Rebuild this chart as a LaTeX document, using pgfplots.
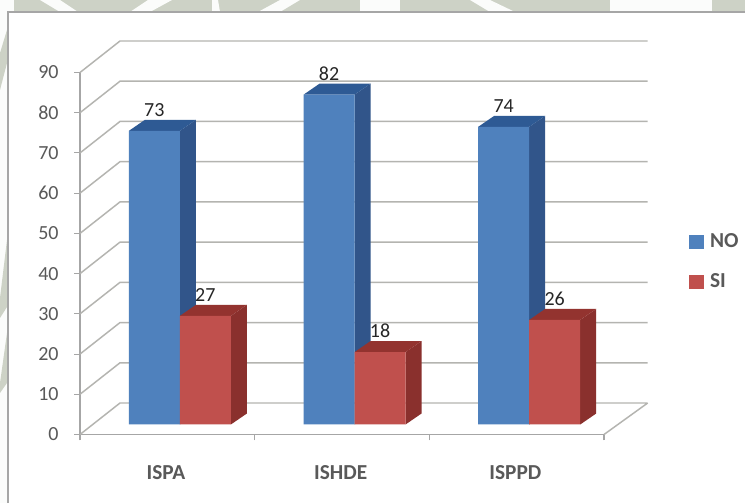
\documentclass[border=0pt]{standalone}
\usepackage{fontspec}
\setmainfont{Carlito}
\usepackage{pgfplots}
\pgfplotsset{compat=1.18}
\definecolor{bluefront}{HTML}{4F81BD}
\definecolor{blueside}{HTML}{31558A}
\definecolor{bluetop}{HTML}{2E5A94}
\definecolor{redfront}{HTML}{C0504D}
\definecolor{redside}{HTML}{8A302D}
\definecolor{redtop}{HTML}{93332F}
\definecolor{gridgray}{HTML}{B4B4B0}
\definecolor{axisgray}{HTML}{A6A6A6}
\definecolor{ticktext}{HTML}{595959}
\definecolor{wmark}{HTML}{CDD2C6}
\begin{document}
\begin{tikzpicture}[x=0.75pt,y=0.75pt]
\useasboundingbox (0,0) rectangle (745,503);
% backdrop and chart frame
\fill[wmark] (0,491) rectangle (745,503);
\fill[white] (8,0) rectangle (745,491);
\fill[white!93!wmark] (0,0) rectangle (8,491);
% pale watermark pieces round the frame
\fill[white!93!wmark] (0,491) rectangle (14,503);
\fill[white!93!wmark] (60,491) -- (78,491) -- (60,503) -- (40,503) -- cycle;
\fill[white!93!wmark] (130,491) -- (150,491) -- (172,503) -- (148,503) -- cycle;
\fill[white!93!wmark] (212,491) -- (220,491) -- (218,503) -- (212,503) -- cycle;
\fill[white!93!wmark] (258,491) -- (280,491) -- (300,503) -- (280,503) -- cycle;
\fill[white!93!wmark] (360,491) rectangle (400,503);
\fill[white!93!wmark] (490,491) -- (515,491) -- (490,503) -- (470,503) -- cycle;
\fill[white!93!wmark] (610,491) rectangle (712,503);
\fill[wmark] (0,413) -- (7,440) -- (7,473) -- (0,450) -- cycle;
\fill[wmark] (0,205) -- (7,263) -- (7,196) -- (0,185) -- cycle;
\fill[wmark] (0,120) -- (7,170) -- (7,120) -- (0,110) -- cycle;
\draw[axisgray,line width=1.5pt] (8,0) -- (8,491) -- (745,491);
\begin{axis}[
    at={(60pt,51.375pt)}, anchor=south west,
    scale only axis, width=393pt, height=271.5pt,
    xmin=0, xmax=3, ymin=0, ymax=90,
    clip=false,
    axis x line=bottom, axis y line=left,
    axis line style={-,draw=axisgray,line width=1pt},
    ytick={0,10,...,90},
    xtick={0.5,1.5,2.5},
    xticklabels={ISPA,ISHDE,ISPPD},
    minor xtick={0,1,2,3},
    tick align=outside,
    major x tick style={draw=none},
    minor tick length=4.5pt,
    major tick length=4.5pt,
    tick style={draw=axisgray,line width=0.8pt},
    yticklabel style={font=\fontsize{15}{17}\selectfont,text=ticktext,xshift=-8pt},
    xticklabel style={font=\fontsize{16}{18}\selectfont\bfseries,text=ticktext,yshift=-15pt,xshift=-1pt},
    /pgf/number format/assume math mode=true,
    unbounded coords=jump,
    legend style={at={(1.155,0.478)},anchor=west,draw=none,fill=none,
        font=\fontsize{16}{18}\selectfont\bfseries,text=ticktext,row sep=16pt,
        nodes={inner sep=1pt}},
    legend cell align=left,
    nodes near coords style={font=\fontsize{15}{17}\selectfont,text=black!85},
]
% side wall and back wall grid lines
\addplot[forget plot,draw=gridgray,line width=1.1pt] coordinates {
    (0,0)(0.229,7.83)(3.25,7.83) (nan,nan)
    (0,10)(0.229,17.83)(3.25,17.83) (nan,nan)
    (0,20)(0.229,27.83)(3.25,27.83) (nan,nan)
    (0,30)(0.229,37.83)(3.25,37.83) (nan,nan)
    (0,40)(0.229,47.83)(3.25,47.83) (nan,nan)
    (0,50)(0.229,57.83)(3.25,57.83) (nan,nan)
    (0,60)(0.229,67.83)(3.25,67.83) (nan,nan)
    (0,70)(0.229,77.83)(3.25,77.83) (nan,nan)
    (0,80)(0.229,87.83)(3.25,87.83) (nan,nan)
    (0,90)(0.229,97.83)(3.25,97.83) (nan,nan)
    (3,0)(3.25,7.83)
};
% NO: side and top faces
\pgfplotsset{face/.style={forget plot,draw=none,xshift=9.4pt,yshift=7.5pt}}
\addplot[face,fill=blueside] coordinates {(0.5,0)(0.5,73)(0.5916,75.735)(0.5916,2.735)(0.5,0)};
\addplot[face,fill=blueside] coordinates {(1.5,0)(1.5,82)(1.5916,84.735)(1.5916,2.735)(1.5,0)};
\addplot[face,fill=blueside] coordinates {(2.5,0)(2.5,74)(2.5916,76.735)(2.5916,2.735)(2.5,0)};
\addplot[face,fill=bluetop] coordinates {(0.208,73)(0.5,73)(0.5916,75.735)(0.2996,75.735)(0.208,73)};
\addplot[face,fill=bluetop] coordinates {(1.208,82)(1.5,82)(1.5916,84.735)(1.2996,84.735)(1.208,82)};
\addplot[face,fill=bluetop] coordinates {(2.208,74)(2.5,74)(2.5916,76.735)(2.2996,76.735)(2.208,74)};
% NO: front faces
\addplot[ybar,forget plot,bar width=38.25pt,bar shift=-19.125pt,fill=bluefront,draw=none,
    xshift=9.4pt,yshift=7.5pt,nodes near coords,
    every node near coord/.append style={xshift=-19.125pt,yshift=7pt}] coordinates {(0.5,73)(1.5,82)(2.5,74)};
% SI: side and top faces
\addplot[face,fill=redside] coordinates {(0.792,0)(0.792,27)(0.8836,29.735)(0.8836,2.735)(0.792,0)};
\addplot[face,fill=redside] coordinates {(1.792,0)(1.792,18)(1.8836,20.735)(1.8836,2.735)(1.792,0)};
\addplot[face,fill=redside] coordinates {(2.792,0)(2.792,26)(2.8836,28.735)(2.8836,2.735)(2.792,0)};
\addplot[face,fill=redtop] coordinates {(0.5,27)(0.792,27)(0.8836,29.735)(0.5916,29.735)(0.5,27)};
\addplot[face,fill=redtop] coordinates {(1.5,18)(1.792,18)(1.8836,20.735)(1.5916,20.735)(1.5,18)};
\addplot[face,fill=redtop] coordinates {(2.5,26)(2.792,26)(2.8836,28.735)(2.5916,28.735)(2.5,26)};
% SI: front faces
\addplot[ybar,forget plot,bar width=38.25pt,bar shift=19.125pt,fill=redfront,draw=none,
    xshift=9.4pt,yshift=7.5pt,nodes near coords,
    every node near coord/.append style={xshift=19.125pt,yshift=7pt}] coordinates {(0.5,27)(1.5,18)(2.5,26)};
\addlegendimage{legend image code/.code={\fill[bluefront] (0pt,-5pt) rectangle (10pt,5pt);\path (14pt,0pt);}}
\addlegendentry{NO}
\addlegendimage{legend image code/.code={\fill[redfront] (0pt,-5pt) rectangle (10pt,5pt);\path (14pt,0pt);}}
\addlegendentry{SI}
\end{axis}
\end{tikzpicture}
\end{document}
